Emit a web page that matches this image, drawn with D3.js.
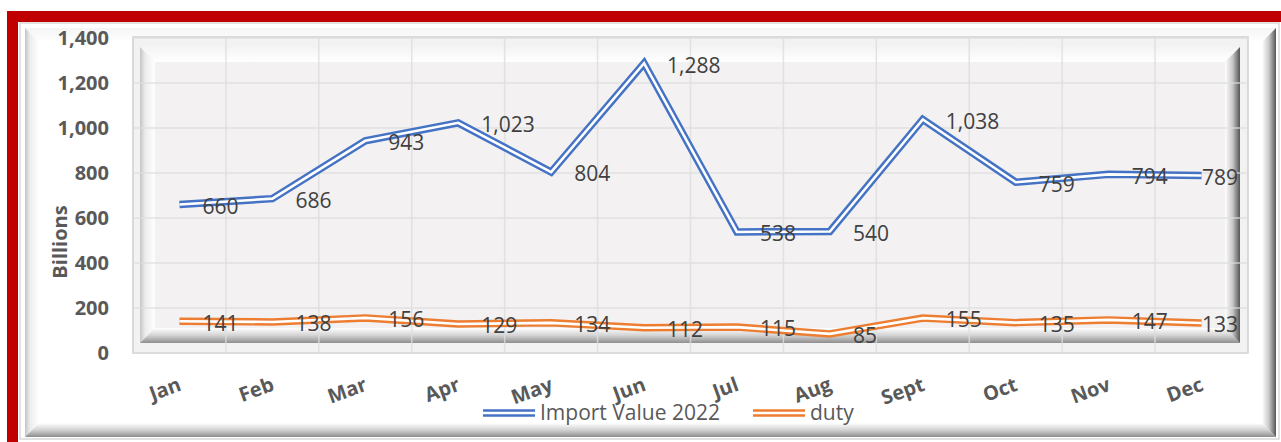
<!DOCTYPE html>
<html>
<head>
<meta charset="utf-8">
<script src="https://cdn.jsdelivr.net/npm/d3@7"></script>
<style>
  html, body { margin:0; padding:0; background:#fff; }
  svg { display:block; font-family:'Open Sans', sans-serif; }
</style>
</head>
<body>
<div id="canvas"></div>
<script>
var months = ['Jan','Feb','Mar','Apr','May','Jun','Jul','Aug','Sept','Oct','Nov','Dec'];
var importValue = [660, 686, 943, 1023, 804, 1288, 538, 540, 1038, 759, 794, 789];
var duty = [141, 138, 156, 129, 134, 112, 115, 85, 155, 135, 147, 133];
var yTicks = [0, 200, 400, 600, 800, 1000, 1200, 1400];
var seriesNames = ['Import Value 2022', 'duty'];
var seriesColors = ['#4472C4', '#ED7D31'];

var W = 1281, H = 442;
var svg = d3.select('#canvas').append('svg')
    .attr('width', W).attr('height', H);

var defs = svg.append('defs');
function grad(id, x1, y1, x2, y2, stops){
    var g = defs.append('linearGradient').attr('id', id)
        .attr('x1', x1).attr('y1', y1).attr('x2', x2).attr('y2', y2);
    stops.forEach(function(s){
        g.append('stop').attr('offset', s[0]).attr('stop-color', s[1]);
    });
}
grad('gl', 0, 0, 1, 0, [[0,'#c4c4c4'],[0.35,'#ececec'],[1,'#ffffff']]);
grad('gb', 0, 0, 0, 1, [[0,'#ffffff'],[0.5,'#d2d2d2'],[1,'#8e8e8e']]);
grad('gr', 0, 0, 1, 0, [[0,'#ffffff'],[0.5,'#c8c8c8'],[1,'#555555']]);
grad('gt', 0, 0, 0, 1, [[0,'#f4f4f4'],[1,'#ffffff']]);

// red outer frame
svg.append('rect').attr('x', 7).attr('y', 11).attr('width', W).attr('height', H)
    .attr('fill', '#C00000');
svg.append('rect').attr('x', 18).attr('y', 22).attr('width', W).attr('height', H)
    .attr('fill', '#ffffff');

// bevel helper: four trapezoids round a box
function bevel(g, x0, y0, x1, y1, d){
    g.append('polygon').attr('fill', 'url(#gt)')
        .attr('points', [[x0,y0],[x1,y0],[x1-d,y0+d],[x0+d,y0+d]].join(' '));
    g.append('polygon').attr('fill', 'url(#gl)')
        .attr('points', [[x0,y0],[x0+d,y0+d],[x0+d,y1-d],[x0,y1]].join(' '));
    g.append('polygon').attr('fill', 'url(#gb)')
        .attr('points', [[x0,y1],[x0+d,y1-d],[x1-d,y1-d],[x1,y1]].join(' '));
    g.append('polygon').attr('fill', 'url(#gr)')
        .attr('points', [[x1,y0],[x1,y1],[x1-d,y1-d],[x1-d,y0+d]].join(' '));
}
var frame = svg.append('g');
frame.append('rect').attr('x', 20).attr('y', 23).attr('width', 1259).attr('height', 416)
    .attr('fill', 'none').attr('stroke', '#d9d9d9').attr('stroke-width', 1.5);
bevel(frame, 25, 28, 1276, 437, 14);
frame.append('rect').attr('x', 39).attr('y', 42).attr('width', 1223).attr('height', 381)
    .attr('fill', '#ffffff');

// scales
var m = {l:133, r:1248, t:38, b:353};
var x = d3.scaleBand().domain(months).range([m.l, m.r]);
var y = d3.scaleLinear().domain([0, 1400]).range([m.b, m.t]);
var cx = function(i){ return x(months[i]) + x.bandwidth()/2; };

// plot area with bevel
var plot = svg.append('g').attr('class', 'plot');
plot.append('rect').attr('x', m.l).attr('y', m.t - 1).attr('width', m.r - m.l).attr('height', m.b - m.t + 1)
    .attr('fill', '#f2f2f2').attr('stroke', '#cfcfcf').attr('stroke-width', 1.5);
bevel(plot, 140, 47, 1240, 343, 15);
plot.append('rect').attr('x', 155).attr('y', 62).attr('width', 1070).attr('height', 266)
    .attr('fill', '#f3f1f2');

// gridlines
plot.selectAll('.hgrid').data(yTicks).enter().append('line')
    .attr('class', 'hgrid')
    .attr('x1', m.l).attr('x2', m.r)
    .attr('y1', function(d){ return y(d); }).attr('y2', function(d){ return y(d); })
    .attr('stroke', '#dedede').attr('stroke-width', 1.5).attr('opacity', 0.8);
plot.selectAll('.vgrid').data(months.slice(1)).enter().append('line')
    .attr('class', 'vgrid')
    .attr('x1', function(d){ return x(d); }).attr('x2', function(d){ return x(d); })
    .attr('y1', m.t).attr('y2', m.b)
    .attr('stroke', '#dedede').attr('stroke-width', 1.5).attr('opacity', 0.8);

// y axis labels
svg.selectAll('.ylab').data(yTicks).enter().append('text')
    .attr('class', 'ylab')
    .attr('x', 109).attr('y', function(d){ return y(d); })
    .attr('dy', '0.35em').attr('text-anchor', 'end')
    .attr('font-size', 20).attr('font-weight', 'bold').attr('fill', '#595959')
    .text(function(d){ return d3.format(',')(d); });

svg.append('text')
    .attr('transform', 'translate(67,242) rotate(-90)')
    .attr('text-anchor', 'middle')
    .attr('font-size', 20).attr('font-weight', 'bold').attr('fill', '#595959')
    .text('Billions');

// x axis labels
svg.selectAll('.xlab').data(months).enter().append('text')
    .attr('class', 'xlab')
    .attr('transform', function(d, i){ return 'translate(' + (cx(i) + 3) + ',390) rotate(-20)'; })
    .attr('text-anchor', 'end')
    .attr('font-size', 20).attr('font-weight', 'bold').attr('fill', '#595959')
    .text(function(d){ return d; });

// lines (double line style)
var line = d3.line()
    .x(function(d, i){ return cx(i); })
    .y(function(d){ return y(d); });

[importValue, duty].forEach(function(vals, k){
    var g = svg.append('g');
    g.append('path').attr('d', line(vals)).attr('fill', 'none')
        .attr('stroke', seriesColors[k]).attr('stroke-width', 7.5).attr('stroke-linejoin', 'miter');
    g.append('path').attr('d', line(vals)).attr('fill', 'none')
        .attr('stroke', '#ffffff').attr('stroke-width', 2.6).attr('stroke-linejoin', 'miter');
});

// data labels, kept inside the plot on the right
[importValue, duty].forEach(function(vals){
    svg.selectAll(null).data(vals).enter().append('text')
        .attr('y', function(d){ return y(d) + 2; })
        .attr('dy', '0.35em')
        .attr('font-size', 21).attr('fill', '#404040')
        .text(function(d){ return d3.format(',')(d); })
        .attr('x', function(d, i){
            var tw = this.getComputedTextLength();
            return Math.min(cx(i) + 23, 1238 - tw);
        });
});

// legend
var legend = svg.append('g');
var legendPos = [[483, 540], [753, 810]];
seriesNames.forEach(function(name, k){
    var lx = legendPos[k][0];
    legend.append('line').attr('x1', lx).attr('x2', lx + 52).attr('y1', 410.5).attr('y2', 410.5)
        .attr('stroke', seriesColors[k]).attr('stroke-width', 2.4);
    legend.append('line').attr('x1', lx).attr('x2', lx + 52).attr('y1', 415.5).attr('y2', 415.5)
        .attr('stroke', seriesColors[k]).attr('stroke-width', 2.4);
    legend.append('text').attr('x', legendPos[k][1]).attr('y', 413).attr('dy', '0.35em')
        .attr('font-size', 21).attr('fill', '#595959')
        .text(name);
});
</script>
</body>
</html>
